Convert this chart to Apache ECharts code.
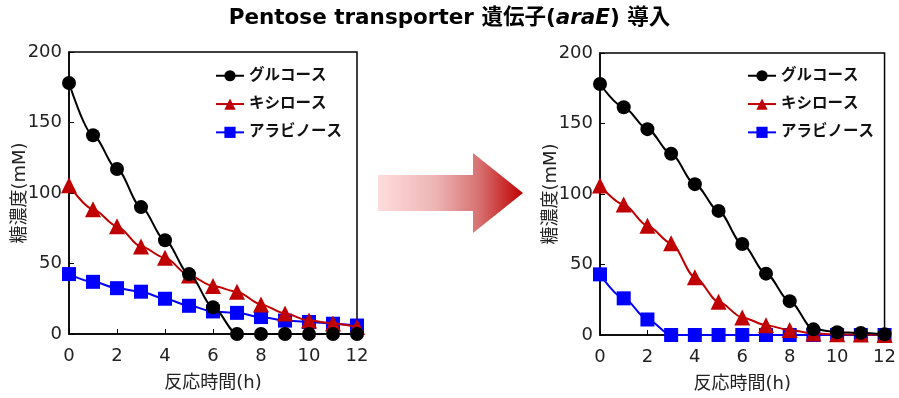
<!DOCTYPE html>
<html>
<head>
<meta charset="utf-8">
<script src="https://cdn.jsdelivr.net/npm/echarts@6/dist/echarts.min.js"></script>
<style>
  html, body { margin: 0; padding: 0; background: #fff; }
  #chart { width: 899px; height: 398px; }
</style>
</head>
<body>
<div id="chart"></div>
<script>
// time points (h)
const hours = [0, 1, 2, 3, 4, 5, 6, 7, 8, 9, 10, 11, 12];
const seriesNames = ['グルコース', 'キシロース', 'アラビノース'];

// before: wild type
const glucoseBefore = [178, 141, 117, 90, 66.5, 42.5, 19, 0, 0, 0, 0, 0, 0];
const xyloseBefore = [105.5, 88.5, 76.5, 62, 54, 41.5, 34, 30, 21, 14.5, 9.5, 7.5, 5];
const arabinoseBefore = [42.5, 37, 32.5, 30, 25, 20, 16, 15, 12, 9.5, 8.5, 7.3, 6];

// after: araE introduced
const glucoseAfter = [178, 161.5, 146, 128.5, 107, 88, 64.5, 43.5, 24, 4, 2, 1.5, 0.5];
const xyloseAfter = [106, 92.5, 77.5, 65, 41, 23.5, 12.5, 7, 3.5, 1, 0.5, 0.3, 0];
const arabinoseAfter = [43, 26, 11, 0, 0, 0, 0, 0, 0, 0, 0, 0, 0];

const chart = echarts.init(document.getElementById('chart'));

const colors = ['#000000', '#c00000', '#0000ff'];
const symbols = ['circle', 'triangle', 'rect'];
const fontJP = '"DejaVu Sans", "Noto Sans CJK JP", sans-serif';

const pair = vals => hours.map((h, i) => [h, vals[i]]);

function makeSeries(values, gridIdx) {
  return values.map((vals, k) => ({
    name: seriesNames[k],
    type: 'line',
    xAxisIndex: gridIdx,
    yAxisIndex: gridIdx,
    data: pair(vals),
    smooth: 0.3,
    smoothMonotone: 'x',
    symbol: symbols[k],
    symbolSize: k === 1 ? 16 : 14,
    lineStyle: { color: colors[k], width: 2 },
    itemStyle: { color: colors[k] },
    z: 3 - k
  }));
}

function xAxis(gridIdx) {
  return {
    gridIndex: gridIdx,
    type: 'value',
    min: 0, max: 12, interval: 2,
    name: '反応時間(h)',
    nameLocation: 'middle',
    nameGap: 40,
    nameMoveOverlap: false,
    nameTextStyle: { fontSize: 18, color: '#222', fontFamily: fontJP },
    axisLine: { lineStyle: { color: '#000', width: 1.5 } },
    axisTick: { inside: true, length: 5, lineStyle: { color: '#000' } },
    axisLabel: { fontSize: 18, color: '#222', fontFamily: fontJP, margin: 13 },
    splitLine: { show: false }
  };
}

function yAxis(gridIdx) {
  return {
    gridIndex: gridIdx,
    type: 'value',
    min: 0, max: 200, interval: 50,
    name: '糖濃度(mM)',
    nameLocation: 'middle',
    nameGap: 40,
    nameMoveOverlap: false,
    nameTextStyle: { fontSize: 18, color: '#222', fontFamily: fontJP },
    axisLine: { lineStyle: { color: '#000', width: 1.5 } },
    axisTick: { inside: true, length: 5, lineStyle: { color: '#000' } },
    axisLabel: { fontSize: 18, color: '#222', fontFamily: fontJP, margin: 7 },
    splitLine: { show: false }
  };
}

function legend(left) {
  return {
    left: left,
    top: 63,
    orient: 'vertical',
    itemWidth: 28,
    itemHeight: 14,
    itemGap: 12.8,
    textGap: 4,
    data: seriesNames,
    textStyle: { fontSize: 15.5, fontWeight: 'bold', color: '#111', fontFamily: fontJP }
  };
}

chart.setOption({
  animation: false,
  title: {
    text: 'Pentose transporter 遺伝子({i|araE}) 導入',
    left: 'center',
    top: 3,
    textStyle: {
      fontSize: 21.5, fontWeight: 'bold', color: '#000', fontFamily: fontJP,
      rich: { i: { fontSize: 21.5, fontWeight: 'bold', fontStyle: 'italic', fontFamily: fontJP } }
    }
  },
  legend: [legend(210), legend(742)],
  grid: [
    { left: 69, top: 52, width: 288, height: 282, show: true, borderColor: '#000', borderWidth: 1.5 },
    { left: 600, top: 53, width: 288, height: 283, show: true, borderColor: '#000', borderWidth: 1.5 }
  ],
  xAxis: [xAxis(0), xAxis(1)],
  yAxis: [yAxis(0), yAxis(1)],
  graphic: [{
    type: 'polygon',
    shape: { points: [[378, 175], [473, 175], [473, 153], [523, 193], [473, 233], [473, 211], [378, 211]] },
    style: {
      fill: new echarts.graphic.LinearGradient(0, 0, 1, 0, [
        { offset: 0, color: '#ffdcdc' },
        { offset: 0.4, color: '#edb4b4' },
        { offset: 0.7, color: '#d77070' },
        { offset: 1, color: '#c00000' }
      ])
    }
  }],
  series: [
    ...makeSeries([glucoseBefore, xyloseBefore, arabinoseBefore], 0),
    ...makeSeries([glucoseAfter, xyloseAfter, arabinoseAfter], 1)
  ]
});
</script>
</body>
</html>
